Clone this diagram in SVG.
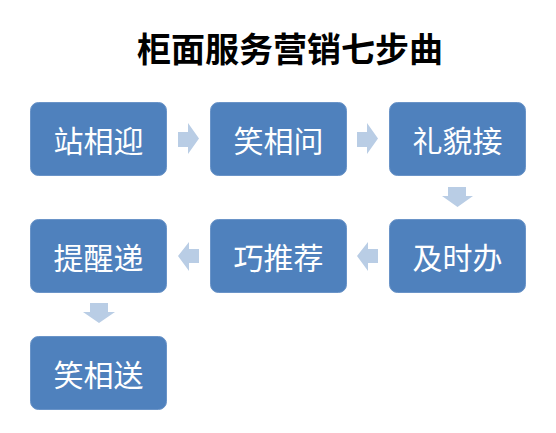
<svg xmlns="http://www.w3.org/2000/svg" width="556" height="433" viewBox="0 0 556 433">
<style>
.box{fill:#4F81BD;stroke:#6A94C8;stroke-width:1}
.lbl{fill:#FFFFFF;font-family:"Noto Sans CJK SC","Noto Sans",sans-serif;font-size:30px;text-anchor:middle;dominant-baseline:central}
.arr{fill:#B9CDE5}
.title{fill:#000000;font-family:"Noto Sans CJK SC","Noto Sans",sans-serif;font-size:34px;font-weight:bold;text-anchor:middle;dominant-baseline:central}
</style>
<rect width="556" height="433" fill="#FFFFFF"/>
<text class="title" x="290" y="47">柜面服务营销七步曲</text>
<g id="connectors">
<polygon class="arr" points="178,132 188,132 188,123 199,138.5 188,154 188,147 178,147"/>
<polygon class="arr" points="357,132 367,132 367,123 378,138.5 367,154 367,147 357,147"/>
<polygon class="arr" points="448,187 466,187 466,196 473,196 457.5,207 442,196 448,196"/>
<polygon class="arr" points="378,249 368,249 368,242 357,256 368,271 368,263 378,263"/>
<polygon class="arr" points="199,249 189,249 189,242 178,256 189,271 189,263 199,263"/>
<polygon class="arr" points="90,303 108,303 108,312 115,312 99,323 83,312 90,312"/>
</g>
<g id="n1"><rect class="box" x="30.5" y="102.5" width="136" height="73" rx="8"/><text class="lbl" x="98.5" y="139">站相迎</text></g>
<g id="n2"><rect class="box" x="210.5" y="102.5" width="136" height="73" rx="8"/><text class="lbl" x="278.5" y="139">笑相问</text></g>
<g id="n3"><rect class="box" x="389.5" y="102.5" width="136" height="73" rx="8"/><text class="lbl" x="457.5" y="139">礼貌接</text></g>
<g id="n4"><rect class="box" x="389.5" y="219.5" width="136" height="73" rx="8"/><text class="lbl" x="457.5" y="256">及时办</text></g>
<g id="n5"><rect class="box" x="210.5" y="219.5" width="136" height="73" rx="8"/><text class="lbl" x="278.5" y="256">巧推荐</text></g>
<g id="n6"><rect class="box" x="30.5" y="219.5" width="136" height="73" rx="8"/><text class="lbl" x="98.5" y="256">提醒递</text></g>
<g id="n7"><rect class="box" x="30.5" y="336.5" width="136" height="73" rx="8"/><text class="lbl" x="98.5" y="373">笑相送</text></g>
</svg>
